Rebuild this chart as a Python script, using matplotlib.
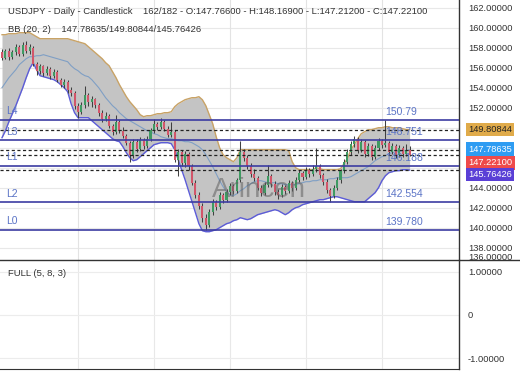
import matplotlib
matplotlib.use('Agg')
import matplotlib.pyplot as plt
from matplotlib.lines import Line2D

plt.rcParams['font.family'] = ['Liberation Sans', 'DejaVu Sans']

# ---------------- data ----------------
opens = [157.6,157.0,157.7,157.1,157.6,158.1,157.4,158.3,157.7,158.0,
         156.4,155.7,156.2,155.5,155.9,155.2,155.6,154.8,154.3,154.6,
         153.8,153.5,152.2,151.6,152.3,153.3,152.6,152.9,152.3,151.5,
         150.9,151.2,150.2,149.6,150.6,149.7,149.2,148.5,147.3,148.6,
         147.9,148.8,148.2,148.9,149.8,150.4,150.1,150.6,149.9,149.3,
         149.6,146.8,147.6,146.5,147.4,146.2,144.5,143.3,142.2,141.0,
         140.3,141.6,142.6,142.1,143.3,142.8,143.6,144.2,143.7,144.8,
         147.6,147.0,146.2,145.4,145.0,144.0,143.5,144.3,145.2,144.4,
         143.6,143.3,144.1,143.7,144.5,144.0,144.8,145.5,145.1,145.8,
         145.4,145.9,146.2,145.3,144.6,143.8,143.2,144.0,144.8,145.7,
         146.6,147.6,148.4,148.9,147.8,148.6,147.4,148.2,147.1,148.0,
         148.7,148.3,148.5,147.6,148.2,147.3,148.0,147.4,147.766]
highs = [157.9,157.9,158.0,157.8,158.4,158.3,158.6,158.7,158.4,158.2,
         156.6,156.4,156.3,156.2,156.1,155.9,155.8,155.0,154.9,154.8,
         154.1,153.7,152.5,152.6,154.2,153.5,153.2,153.0,152.5,151.8,
         151.6,151.4,150.4,151.3,150.8,150.1,149.4,148.7,148.9,148.9,
         149.1,149.0,149.2,150.0,150.9,150.6,151.0,150.8,150.2,150.6,
         149.8,147.9,147.8,147.7,147.6,146.4,144.8,143.6,142.5,141.4,
         141.9,142.9,142.8,143.6,143.5,143.9,144.5,144.4,145.0,148.7,
         147.9,147.3,146.5,145.9,145.2,144.3,144.6,146.3,145.4,144.7,
         143.9,144.4,144.3,144.8,144.7,145.1,145.8,145.7,146.1,146.0,
         146.3,148.0,146.4,145.5,144.9,144.0,144.3,145.1,145.9,146.9,
         147.9,148.7,149.2,149.1,148.9,148.8,148.5,148.4,148.3,149.0,
         148.9,150.8,148.7,148.5,148.4,148.3,148.2,148.4,148.169]
lows = [156.8,156.9,156.8,156.9,157.3,157.2,157.2,157.5,157.4,156.2,
        155.3,155.4,155.2,155.3,154.9,155.0,154.6,154.1,154.0,153.5,
        153.2,151.9,151.0,151.4,152.0,152.2,152.1,152.0,151.2,150.6,
        150.7,150.0,149.3,149.4,149.5,149.0,148.3,146.6,147.0,147.6,
        147.7,147.9,148.0,148.7,149.5,149.8,149.9,149.7,149.1,149.1,
        146.6,145.2,146.2,146.1,145.8,144.3,143.0,141.9,140.6,139.8,
        140.1,141.3,141.8,141.9,142.5,142.6,143.3,143.4,143.5,144.6,
        146.7,145.9,145.1,144.7,143.8,143.2,143.3,144.1,144.1,143.3,
        142.9,143.1,143.4,143.5,143.7,143.8,144.6,144.8,144.9,145.1,
        145.2,145.6,145.0,144.3,143.5,142.6,143.0,143.8,144.5,145.5,
        146.4,147.3,148.1,147.5,147.6,147.1,147.2,146.8,146.9,147.8,
        148.0,148.1,147.3,147.4,147.0,147.1,147.1,147.2,147.212]
closes = [157.0,157.7,157.1,157.6,158.1,157.4,158.3,157.7,158.1,156.4,
          155.7,156.2,155.5,155.9,155.2,155.6,154.8,154.3,154.6,153.8,
          153.5,152.2,151.6,152.3,153.3,152.6,152.9,152.3,151.5,150.9,
          151.2,150.2,149.6,150.6,149.7,149.2,148.5,147.3,148.6,147.9,
          148.8,148.2,148.9,149.8,150.4,150.1,150.6,149.9,149.3,149.6,
          146.8,147.6,146.5,147.4,146.2,144.5,143.3,142.2,141.0,140.3,
          141.6,142.6,142.1,143.3,142.8,143.6,144.2,143.7,144.8,147.6,
          147.0,146.2,145.4,145.0,144.0,143.5,144.3,145.2,144.4,143.6,
          143.3,144.1,143.7,144.5,144.0,144.8,145.5,145.1,145.8,145.4,
          145.9,146.2,145.3,144.6,143.8,143.2,144.0,144.8,145.7,146.6,
          147.6,148.4,148.9,147.8,148.6,147.4,148.2,147.1,148.0,148.7,
          148.3,148.5,147.6,148.2,147.3,148.0,147.4,147.8,147.221]

bb_upper = [159.3,159.3,159.4,159.4,159.4,159.5,159.5,159.5,159.5,159.3,
            159.1,158.9,158.9,158.9,158.9,158.9,158.9,158.9,158.9,158.9,
            158.8,158.7,158.6,158.5,158.4,158.1,157.8,157.5,157.2,156.9,
            156.5,156.2,155.6,155.0,154.3,153.7,153.1,152.6,152.2,151.8,
            151.3,151.1,151.2,151.2,151.3,151.4,151.4,151.5,151.5,151.6,
            152.1,152.4,152.6,152.8,152.9,153.0,153.0,153.1,152.8,152.2,
            151.3,150.4,149.1,148.0,147.3,147.0,146.8,146.6,147.0,147.8,
            147.8,147.8,147.8,147.8,147.8,147.8,147.8,147.8,147.8,147.8,
            147.8,147.8,147.8,147.7,146.6,146.0,145.8,145.8,145.8,145.8,
            145.8,146.0,145.9,145.8,145.8,145.8,145.8,145.8,145.9,146.4,
            146.9,147.8,148.3,148.9,149.4,149.6,149.8,149.8,149.9,150.0,
            150.0,150.1,150.1,150.0,150.0,150.0,149.9,149.8,149.80844]
bb_middle = [154.0,154.5,155.0,155.4,155.8,156.3,156.6,156.9,157.1,157.1,
             157.2,157.2,157.3,157.2,157.1,157.0,156.9,156.8,156.7,156.6,
             156.2,155.9,155.7,155.4,155.2,155.1,154.8,154.4,154.0,153.5,
             153.0,152.6,152.2,151.9,151.5,151.2,150.9,150.7,150.5,150.3,
             150.1,149.9,149.7,149.6,149.4,149.3,149.1,149.0,148.9,148.9,
             148.8,148.7,148.7,148.6,148.6,148.5,148.3,148.1,147.8,147.3,
             146.7,146.1,145.4,144.7,144.1,143.6,143.3,143.2,143.4,143.7,
             143.9,144.2,144.4,144.6,144.7,144.7,144.6,144.5,144.5,144.5,
             144.4,144.4,144.3,144.3,144.3,144.3,144.4,144.5,144.6,144.6,
             144.7,144.7,144.8,144.8,144.8,144.9,144.9,145.0,145.0,145.0,
             145.0,145.1,145.3,145.5,145.7,145.9,146.1,146.4,146.7,146.9,
             147.1,147.2,147.4,147.5,147.6,147.6,147.7,147.7,147.78635]
bb_lower = [149.0,149.7,150.6,151.4,152.2,153.1,154.0,155.0,155.9,156.5,
            155.8,155.2,155.1,155.0,154.9,154.8,154.6,154.3,154.0,153.6,
            152.4,151.5,151.0,151.0,151.0,151.0,150.7,150.4,150.1,149.8,
            149.5,149.2,148.9,148.7,148.6,148.1,147.5,147.0,146.7,146.8,
            147.1,147.4,147.7,148.0,148.3,148.4,148.5,148.5,148.5,148.4,
            147.8,146.8,145.8,144.8,143.7,142.6,141.5,140.4,139.7,139.6,
            139.6,139.7,139.8,140.0,140.2,140.4,140.5,140.7,140.8,141.0,
            140.9,140.8,140.9,141.1,141.3,141.4,141.5,141.6,141.7,141.8,
            141.7,141.5,141.3,141.5,141.8,142.0,142.1,142.3,142.4,142.5,
            142.6,142.7,142.8,142.8,142.9,143.0,143.1,143.1,143.0,142.9,
            142.8,142.7,142.6,142.6,142.6,142.6,142.9,143.2,143.5,144.0,
            144.7,145.2,145.5,145.6,145.7,145.7,145.8,145.8,145.76426]

level_names = ['L4', 'L3', 'L1', 'L2', 'L0']
level_values = [150.79, 148.751, 146.188, 142.554, 139.780]
level_texts = ['150.79', '148.751', '146.188', '142.554', '139.780']

price_ticks = [138, 140, 142, 144, 146, 148, 150, 152, 154, 156, 158, 160, 162]
price_ticklabels = ['138.00000', '140.00000', '142.00000', '144.00000', '', '', '',
                    '152.00000', '154.00000', '156.00000', '158.00000', '160.00000', '162.00000']
grid_idx = [22, 44, 66, 88, 110]

marker_values = [149.80844, 147.78635, 147.22100, 145.76426]
marker_texts = ['149.80844', '147.78635', '147.22100', '145.76426']
marker_colors = ['#e0ab4a', '#2e9cf2', '#ef4a4a', '#5a3fd6']
marker_textcolors = ['#222222', 'white', 'white', 'white']
marker_shift = [0, 0.5, -5.2, -3.2]   # points, to avoid overlaps

title1 = 'USDJPY - Daily - Candlestick    162/182 - O:147.76600 - H:148.16900 - L:147.21200 - C:147.22100'
title2 = 'BB (20, 2)    147.78635/149.80844/145.76426'
sub_title = 'FULL (5, 8, 3)'
sub_ticks = [1, 0, -1]
sub_ticklabels = ['1.00000', '0', '-1.00000']

# ---------------- figure ----------------
W, H = 520, 390
fig = plt.figure(figsize=(W / 100, H / 100), dpi=100)
fig.patch.set_facecolor('white')

ax = fig.add_axes([0, 1 - 260 / H, 459 / W, 260 / H])
ax2 = fig.add_axes([0, 1 - 369 / H, 459 / W, 109 / H])

n = len(closes)
xs = list(range(n))
XMIN, XMAX = -0.58, 132.3
TFS = 6.7

# grid
for gv in price_ticks:
    ax.axhline(gv, color='#e8e8e8', lw=0.8, zorder=0)
for gx in grid_idx:
    ax.axvline(gx, color='#e3e3e3', lw=0.8, zorder=0)
    ax2.axvline(gx, color='#e8e8e8', lw=0.8, zorder=0)
for gv in sub_ticks:
    ax2.axhline(gv, color='#ececec', lw=0.8, zorder=0)

# bollinger band
ax.fill_between(xs, bb_lower, bb_upper, color='#c4c4c4', lw=0, zorder=1)
ax.plot(xs, bb_upper, color='#c9a366', lw=1.0, zorder=2)
ax.plot(xs, bb_lower, color='#5c5cd8', lw=1.0, zorder=2)
ax.plot(xs, bb_middle, color='#7f9fc4', lw=0.8, zorder=2)

# candles
for i in range(n):
    up = closes[i] >= opens[i]
    col = '#3f9a62' if up else '#d2566a'
    ax.vlines(i, lows[i], highs[i], color='#404040', lw=0.75, zorder=3)
    lo = min(opens[i], closes[i])
    hgt = max(abs(closes[i] - opens[i]), 0.08)
    ax.bar(i, hgt, bottom=lo, width=0.6, color=col, lw=0, zorder=4)

# level lines
for name, val, txt in zip(level_names, level_values, level_texts):
    ax.axhline(val, color='#3c3ca2', lw=1.2, zorder=5)
    ax.annotate(name, xy=(0, val), xycoords=('axes fraction', 'data'),
                xytext=(4.5, 2.5), textcoords='offset points', ha='left', va='bottom',
                fontsize=7.5, color='#5b74c6', zorder=6)
    ax.annotate(txt, xy=(385 / 459, val), xycoords=('axes fraction', 'data'),
                xytext=(0, 2.0), textcoords='offset points', ha='left', va='bottom',
                fontsize=7.5, color='#5b74c6', zorder=6)

# dashed lines (bands + close)
for val in marker_values:
    ax.axhline(val, color='#222222', lw=0.9, ls=(0, (2.5, 2)), zorder=5)

# watermark
ax.text(212 / 459, 1 - 190 / 260, 'Arincen', transform=ax.transAxes, fontsize=20,
        color='#606060', alpha=0.55, ha='left', va='center', zorder=6)

# axes config
ax.set_xlim(XMIN, XMAX)
ax.set_ylim(136.77, 162.77)
ax2.set_xlim(XMIN, XMAX)
ax2.set_ylim(-1.247, 1.27)

for a in (ax, ax2):
    for s in ('left', 'top', 'bottom'):
        a.spines[s].set_visible(False)
    a.spines['right'].set_color('#333333')
    a.spines['right'].set_linewidth(1.0)
    a.set_xticks([])
    a.yaxis.tick_right()
    a.tick_params(axis='y', length=0, pad=6.5, labelsize=TFS, labelcolor='#333333')
ax2.spines['bottom'].set_visible(True)
ax2.spines['bottom'].set_color('#333333')

ax.set_yticks(price_ticks)
ax.set_yticklabels(price_ticklabels)
ax2.set_yticks(sub_ticks)
ax2.set_yticklabels(sub_ticklabels)

# partial label at bottom edge
fig.text(468 / W, 1 - 257.5 / H, '136.00000', fontsize=TFS, color='#333333', ha='left', va='center')

# marker boxes on the price scale
for val, txt, c, tc, dy in zip(marker_values, marker_texts, marker_colors, marker_textcolors, marker_shift):
    ax.annotate(txt, xy=(1, val), xycoords=('axes fraction', 'data'),
                xytext=(6.6, dy), textcoords='offset points', ha='left', va='center',
                fontsize=TFS, color=tc, annotation_clip=False,
                bbox=dict(boxstyle='square,pad=0.25', fc=c, ec='none'), zorder=10)

# separator line across full width
fig.add_artist(Line2D([0, 1], [1 - 260 / H, 1 - 260 / H], transform=fig.transFigure,
                      color='#333333', lw=1.0))

# titles
fig.text(8 / W, 1 - 12 / H, title1, fontsize=6.8, color='#333333', ha='left', va='center')
fig.text(8 / W, 1 - 30 / H, title2, fontsize=6.8, color='#333333', ha='left', va='center')
ax2.text(8 / 459, 1 - 14 / 109, sub_title, transform=ax2.transAxes, fontsize=6.8,
         color='#333333', ha='left', va='center')

fig.savefig('out.png', dpi=100, facecolor='white')
